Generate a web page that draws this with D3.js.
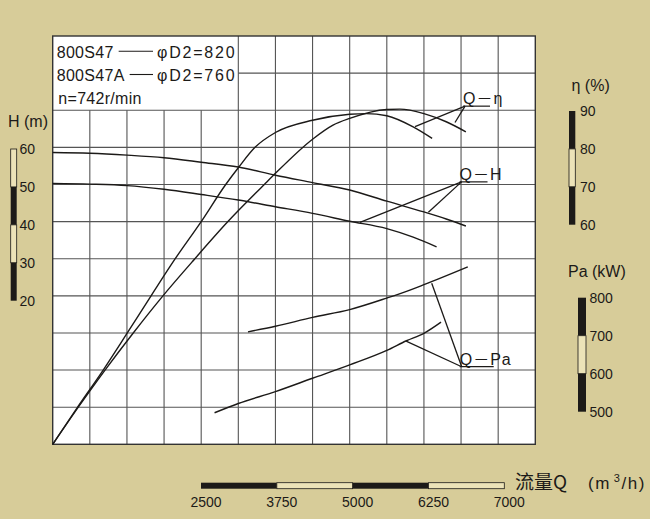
<!DOCTYPE html>
<html>
<head>
<meta charset="utf-8">
<script src="https://cdn.jsdelivr.net/npm/d3@7"></script>
<style>
  body { margin: 0; background: #d7cc99; }
  svg { display: block; }
</style>
</head>
<body>
<svg width="650" height="519"></svg>
<script>
// flow Q (m3/h) and the curves
const etaQ820 = [0, 431, 881, 1356, 1856, 2394, 2950, 3563, 3750, 4375, 4719, 5000, 5625, 5844, 6250, 6625, 6956];
const eta820 = [0, 10, 20, 30, 40, 50, 60, 70, 73, 82.2, 86, 87.8, 90.2, 90.3, 89.1, 86.9, 84.2];
const etaQ760 = [0, 419, 850, 1256, 1656, 2063, 2500, 2913, 3125, 3406, 3750, 4375, 5000, 5281, 5625, 6069, 6388];
const eta760 = [0, 10, 20, 30, 40, 50, 60, 70, 74.5, 80, 84, 87.3, 88.9, 89.1, 88.5, 85.5, 82.4];

const hQ820 = [0, 625, 1250, 1875, 2500, 3125, 3750, 4375, 5000, 5625, 6250, 6625, 6956];
const h820 = [58.6, 58.4, 57.9, 57.2, 56.0, 54.7, 52.5, 50.5, 48.5, 45.5, 42.6, 40.7, 38.8];
const hQ760 = [0, 625, 1250, 1875, 2500, 3125, 3750, 4375, 5000, 5625, 6069, 6463];
const h760 = [50.3, 50.1, 49.7, 48.7, 47.3, 45.8, 44.0, 42.2, 40.1, 38.1, 35.8, 33.2];

const paQ820 = [3288, 3750, 4375, 5000, 5625, 5956, 6250, 6988];
const pa820 = [703, 718, 742, 763, 794, 812, 830, 878];
const paQ760 = [2725, 3125, 3750, 4375, 5000, 5625, 5956, 6250, 6538];
const pa760 = [485, 510, 542, 578, 614, 653, 679, 699, 729];

// curve labels: anchor point and the two leader targets
const etaNote = [6942, 91.1];
const etaNoteTo = [[6100, 85.6], [6773, 86.7]];
const hNote = [6883, 50.7];
const hNoteTo = [[5173, 39.8], [6325, 42.5]];
const paNote = [6886, 609];
const paNoteTo = [[6381, 834], [5950, 678]];

// scale bars
const hTicks = [60, 50, 40, 30, 20];
const etaTicks = [90, 80, 70, 60];
const paTicks = [800, 700, 600, 500];
const qTickLabels = ['2500', '3750', '5000', '6250', '7000'];

const legendRows = [
  ['800S47', 'φD2=820'],
  ['800S47A', 'φD2=760'],
];
const speedText = 'n=742r/min';

const svg = d3.select('svg');
const LEFT = 52.7, RIGHT = 535.3, TOP = 36, BOTTOM = 444.3;
const INK = '#1c1a18';
const FONT = '"Liberation Sans", Arial, sans-serif';

// scales: 13 columns of 625 m3/h, 11 rows of 10 units
const x = d3.scaleLinear().domain([0, 8125]).range([LEFT, RIGHT]);
const yEta = d3.scaleLinear().domain([0, 110]).range([BOTTOM, TOP]);
const yH = d3.scaleLinear().domain([-20, 90]).range([BOTTOM, TOP]);
const yPa = d3.scaleLinear().domain([400, 1500]).range([BOTTOM, TOP]);

// plot background
svg.append('rect')
  .attr('x', LEFT).attr('y', TOP)
  .attr('width', RIGHT - LEFT).attr('height', BOTTOM - TOP)
  .attr('fill', '#fff');

// grid (legend box covers first 5 columns x 2 rows)
const grid = svg.append('g').attr('stroke', '#555').attr('stroke-width', 1.1);
d3.range(625, 8125, 625).forEach((q, i) => {
  grid.append('line')
    .attr('x1', x(q)).attr('x2', x(q))
    .attr('y1', i < 4 ? yEta(90) : TOP).attr('y2', BOTTOM);
});
d3.range(10, 110, 10).forEach(v => {
  grid.append('line')
    .attr('x1', v === 100 ? x(3125) : LEFT).attr('x2', RIGHT)
    .attr('y1', yEta(v)).attr('y2', yEta(v));
});
svg.append('rect')
  .attr('x', LEFT).attr('y', TOP)
  .attr('width', RIGHT - LEFT).attr('height', BOTTOM - TOP)
  .attr('fill', 'none').attr('stroke', '#333').attr('stroke-width', 1.4);

// curves
function drawCurve(qs, vs, y) {
  const line = d3.line()
    .x(d => x(d[0]))
    .y(d => y(d[1]))
    .curve(d3.curveMonotoneX);
  svg.append('path')
    .attr('d', line(d3.zip(qs, vs)))
    .attr('fill', 'none')
    .attr('stroke', INK)
    .attr('stroke-width', 1.4);
}
drawCurve(etaQ820, eta820, yEta);
drawCurve(etaQ760, eta760, yEta);
drawCurve(hQ820, h820, yH);
drawCurve(hQ760, h760, yH);
drawCurve(paQ820, pa820, yPa);
drawCurve(paQ760, pa760, yPa);

// curve labels with leaders
function drawNote(label, at, targets, y, underline) {
  const ax = x(at[0]), ay = y(at[1]);
  const g = svg.append('g');
  targets.forEach(t => {
    g.append('line')
      .attr('x1', ax).attr('y1', ay)
      .attr('x2', x(t[0])).attr('y2', y(t[1]))
      .attr('stroke', INK).attr('stroke-width', 1.3);
  });
  g.append('line')
    .attr('x1', ax - 2).attr('x2', ax + underline)
    .attr('y1', ay).attr('y2', ay)
    .attr('stroke', INK).attr('stroke-width', 1.2);
  g.append('text')
    .attr('x', ax - 2).attr('y', ay - 2)
    .attr('font-family', FONT + ', "Noto Sans CJK SC"')
    .attr('font-size', 16)
    .attr('letter-spacing', 1)
    .attr('fill', INK)
    .text(label);
}
drawNote('Q－η', etaNote, etaNoteTo, yEta, 25);
drawNote('Q－H', hNote, hNoteTo, yH, 26);
drawNote('Q－Pa', paNote, paNoteTo, yPa, 32);

// legend text in the box
const legend = svg.append('g')
  .attr('font-family', FONT).attr('font-size', 16).attr('fill', INK);
legendRows.forEach((row, i) => {
  const base = 57.7 + i * 23.3;
  const name = legend.append('text')
    .attr('x', 56.7).attr('y', base)
    .attr('letter-spacing', 0.3)
    .text(row[0]);
  const w = name.node().getComputedTextLength();
  const x0 = 56.7 + w + 5;
  legend.append('line')
    .attr('x1', x0).attr('x2', 153)
    .attr('y1', base - 6.5).attr('y2', base - 6.5)
    .attr('stroke', INK).attr('stroke-width', 1.1);
  legend.append('text')
    .attr('x', 157).attr('y', base)
    .attr('letter-spacing', 1.8)
    .text(row[1]);
});
legend.append('text')
  .attr('x', 58.3).attr('y', 104.3)
  .attr('letter-spacing', 0.3)
  .text(speedText);

// vertical scale bars (alternating filled / hollow blocks)
function drawBar(ticks, scale, bx, bw, firstDark, labelX) {
  const g = svg.append('g');
  for (let i = 0; i < ticks.length - 1; i++) {
    const y0 = scale(ticks[i]), y1 = scale(ticks[i + 1]);
    const dark = (i % 2 === 0) === firstDark;
    g.append('rect')
      .attr('x', bx).attr('y', Math.min(y0, y1))
      .attr('width', bw).attr('height', Math.abs(y1 - y0))
      .attr('fill', dark ? INK : '#ece3b8')
      .attr('stroke', INK).attr('stroke-width', dark ? 0 : 0.8);
  }
  g.selectAll('text.tick')
    .data(ticks)
    .join('text')
    .attr('x', labelX)
    .attr('y', d => scale(d) + 5)
    .attr('font-family', FONT)
    .attr('font-size', 14)
    .attr('fill', INK)
    .text(d => d);
}
const hBar = d3.scaleLinear().domain([20, 60]).range([300.7, 149]);
const etaBar = d3.scaleLinear().domain([60, 90]).range([224.7, 111]);
const paBar = d3.scaleLinear().domain([500, 800]).range([411.7, 297.7]);
drawBar(hTicks, hBar, 10.7, 6, false, 19.5);
drawBar(etaTicks, etaBar, 569, 6.3, true, 580);
drawBar(paTicks, paBar, 578, 8, true, 589.5);

// axis titles
const titles = svg.append('g').attr('font-family', FONT).attr('font-size', 16).attr('fill', INK);
titles.append('text').attr('x', 8).attr('y', 127).text('H (m)');
titles.append('text').attr('x', 571.5).attr('y', 90.5).text('η (%)');
titles.append('text').attr('x', 568).attr('y', 276.5).text('Pa (kW)');

// horizontal flow bar
const qBar = d3.scalePoint().domain(qTickLabels).range([201, 504.3]);
const qg = svg.append('g');
for (let i = 0; i < qTickLabels.length - 1; i++) {
  const x0 = qBar(qTickLabels[i]), x1 = qBar(qTickLabels[i + 1]);
  const dark = i % 2 === 0;
  qg.append('rect')
    .attr('x', x0).attr('y', 482.7)
    .attr('width', x1 - x0).attr('height', 6)
    .attr('fill', dark ? INK : '#ece3b8')
    .attr('stroke', INK).attr('stroke-width', dark ? 0 : 0.8);
}
qg.selectAll('text')
  .data(qTickLabels)
  .join('text')
  .attr('x', d => qBar(d) + 5)
  .attr('y', 507)
  .attr('text-anchor', 'middle')
  .attr('font-family', FONT)
  .attr('font-size', 14)
  .attr('fill', INK)
  .text(d => d);

svg.append('text')
  .attr('x', 515).attr('y', 488.5)
  .attr('font-family', '"Noto Sans CJK SC", sans-serif')
  .attr('font-size', 19)
  .attr('fill', INK)
  .text('流量Q');
const unit = svg.append('text')
  .attr('x', 588).attr('y', 488.5)
  .attr('font-family', FONT)
  .attr('font-size', 17)
  .attr('letter-spacing', 1.5)
  .attr('fill', INK);
unit.append('tspan').text('(m');
unit.append('tspan').attr('dx', 3).attr('dy', -7).attr('font-size', 11).text('3');
unit.append('tspan').attr('dy', 7).text('/h)');
</script>
</body>
</html>
